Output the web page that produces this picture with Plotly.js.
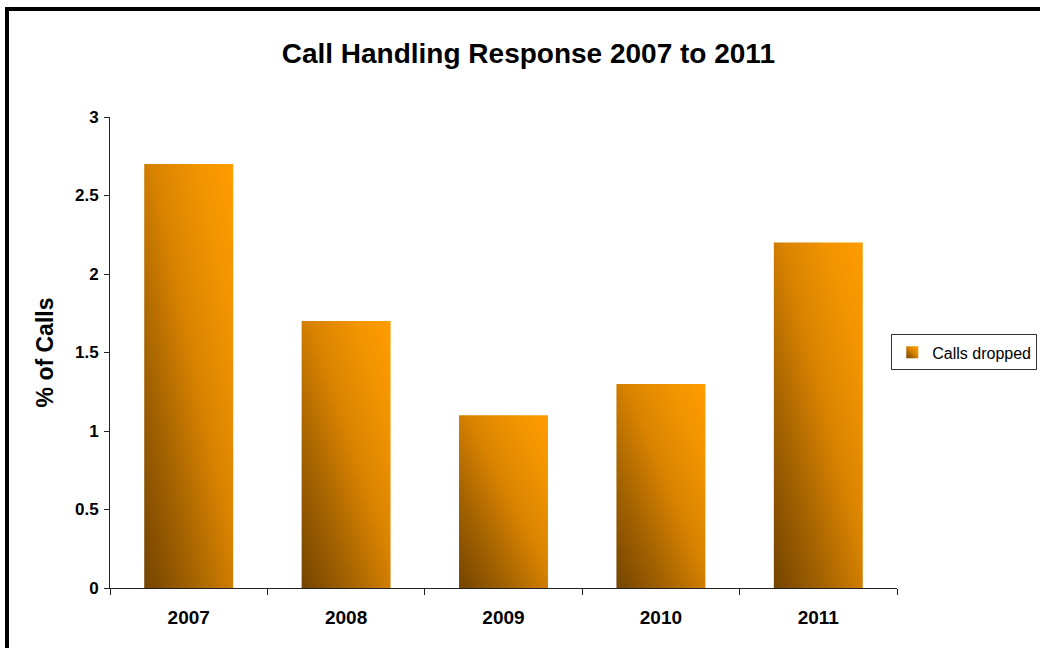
<!DOCTYPE html>
<html>
<head>
<meta charset="utf-8">
<script src="https://cdn.plot.ly/plotly-3.0.1.min.js"></script>
<style>
  html, body { margin: 0; padding: 0; background: #fff; }
  #wrap { position: relative; width: 1040px; height: 648px; overflow: hidden; }
  #chart { position: absolute; left: 0; top: 0; width: 1040px; height: 648px; }
  #frame { position: absolute; left: 5px; top: 7px; width: 1100px; height: 700px;
           border-top: 4px solid #000; border-left: 4px solid #000; pointer-events: none; }
</style>
</head>
<body>
<div id="wrap">
  <div id="chart"></div>
  <div id="frame"></div>
</div>
<script>
const years = ['2007', '2008', '2009', '2010', '2011'];
const callsDropped = [2.7, 1.7, 1.1, 1.3, 2.2];
const seriesName = 'Calls dropped';
const yTicks = [0, 0.5, 1, 1.5, 2, 2.5, 3];
const yTickLabels = ['0', '0.5', '1', '1.5', '2', '2.5', '3'];

const FONT = 'Liberation Sans, Arial, sans-serif';

const data = [{
  type: 'bar',
  x: years,
  y: callsDropped,
  name: seriesName,
  showlegend: true,
  marker: { color: '#d98400', line: { width: 0 } },
  hoverinfo: 'x+y'
}];

const layout = {
  width: 1040,
  height: 648,
  paper_bgcolor: '#ffffff',
  plot_bgcolor: '#ffffff',
  margin: { l: 110, r: 143, t: 117, b: 60, pad: 0, autoexpand: false },
  bargap: 0.435,
  showlegend: true,
  title: {
    text: '<b>Call Handling Response 2007 to 2011</b>',
    font: { family: FONT, size: 28, color: '#000' },
    xref: 'container', x: 0.508, xanchor: 'center',
    yref: 'container', y: 0.918, yanchor: 'middle'
  },
  xaxis: {
    type: 'category',
    showgrid: false,
    zeroline: false,
    showline: true,
    linecolor: '#222',
    linewidth: 1,
    ticks: 'outside',
    tickson: 'boundaries',
    ticklen: 6,
    tickcolor: '#222',
    tickwidth: 1,
    tickfont: { family: FONT, size: 19, color: '#000', weight: 'bold' },
    ticklabelstandoff: 12,
    automargin: false
  },
  yaxis: {
    range: [0, 3],
    tickmode: 'array',
    tickvals: yTicks,
    ticktext: yTickLabels,
    showgrid: false,
    zeroline: false,
    showline: true,
    linecolor: '#222',
    linewidth: 1,
    ticks: 'outside',
    ticklen: 5,
    tickcolor: '#222',
    tickwidth: 1,
    tickfont: { family: FONT, size: 17, color: '#000', weight: 'bold' },
    ticklabelstandoff: 2,
    automargin: false,
    title: {
      text: '<b>% of Calls</b>',
      font: { family: FONT, size: 23, color: '#000' },
      standoff: 14
    }
  },
  legend: {
    xref: 'container', yref: 'container',
    x: 0.857, xanchor: 'left',
    y: 0.484, yanchor: 'top',
    bgcolor: '#ffffff',
    bordercolor: '#333',
    borderwidth: 1,
    font: { family: FONT, size: 16, color: '#000' },
    itemwidth: 30,
    tracegroupgap: 0
  }
};

function applyGradient(gd) {
  const svg = gd.querySelector('svg.main-svg');
  if (!svg) return;
  const NS = 'http://www.w3.org/2000/svg';
  let defs = svg.querySelector('defs');
  if (!defs) { defs = document.createElementNS(NS, 'defs'); svg.insertBefore(defs, svg.firstChild); }
  if (!svg.querySelector('#barGrad')) {
    const g = document.createElementNS(NS, 'linearGradient');
    g.setAttribute('id', 'barGrad');
    g.setAttribute('x1', '0'); g.setAttribute('y1', '1');
    g.setAttribute('x2', '1'); g.setAttribute('y2', '0');
    const stops = [[0, '#744400'], [0.3, '#a86500'], [0.55, '#d98300'], [0.8, '#f29400'], [1, '#ff9c00']];
    stops.forEach(([o, c]) => {
      const s = document.createElementNS(NS, 'stop');
      s.setAttribute('offset', o);
      s.setAttribute('stop-color', c);
      g.appendChild(s);
    });
    defs.appendChild(g);
  }
  gd.querySelectorAll('.barlayer .point path, .legendpoints path').forEach(p => {
    p.style.fill = 'url(#barGrad)';
  });
}

const gd = document.getElementById('chart');
Plotly.newPlot(gd, data, layout, { displayModeBar: false, staticPlot: true }).then(() => applyGradient(gd));
</script>
</body>
</html>
